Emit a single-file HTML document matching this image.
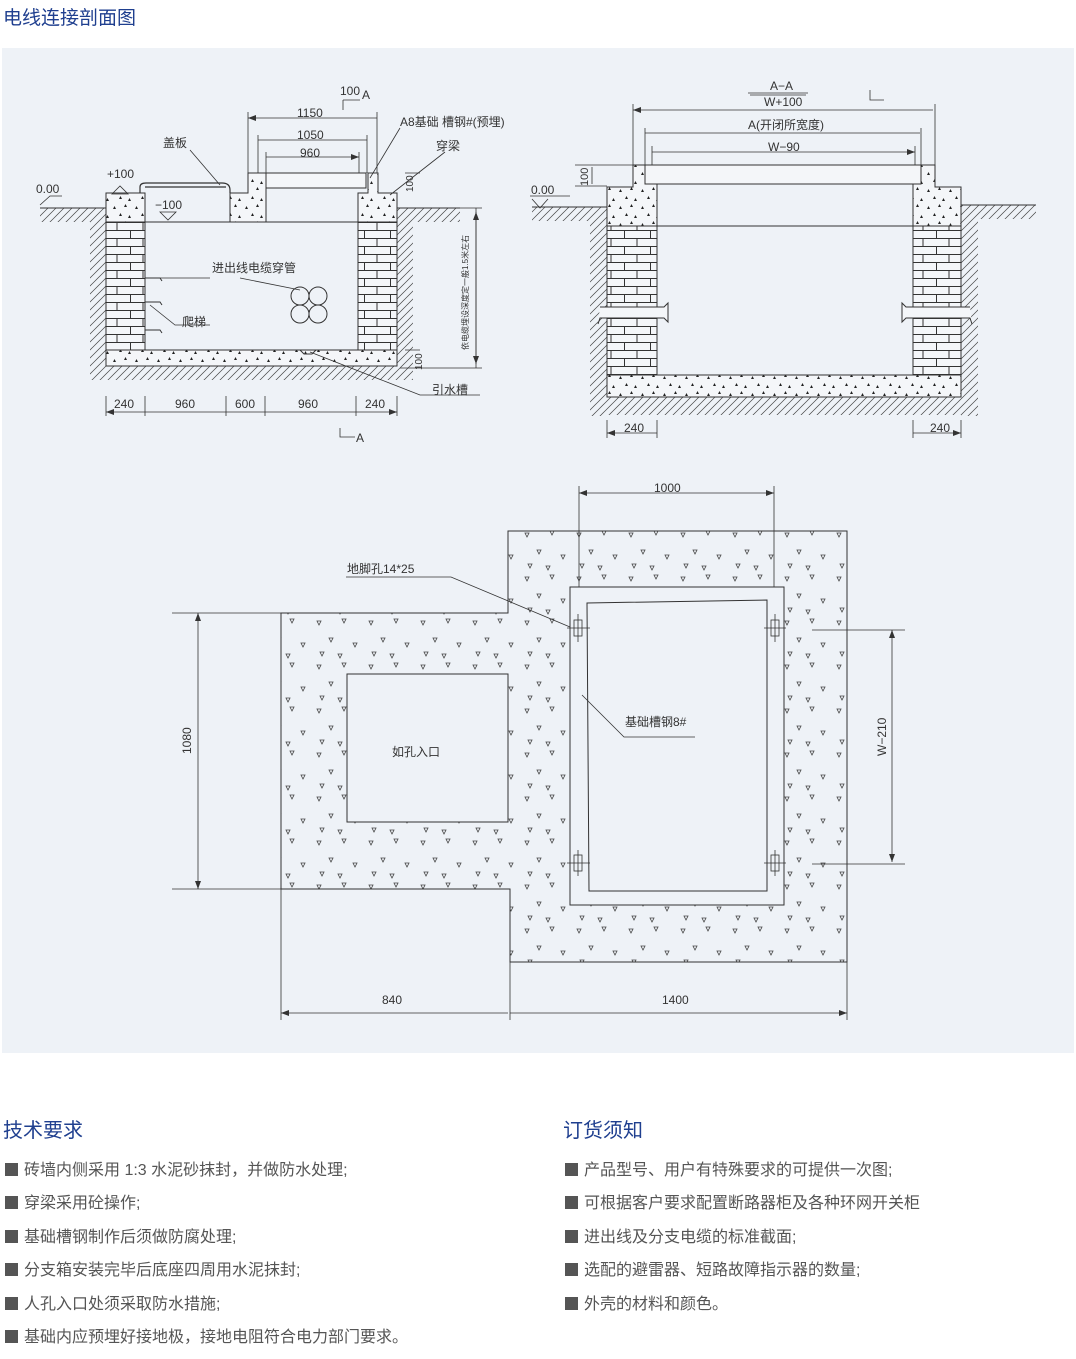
<!DOCTYPE html>
<html><head><meta charset="utf-8"><style>
html,body{margin:0;padding:0;background:#fff;}
body{width:1076px;height:1353px;position:relative;overflow:hidden;font-family:"Liberation Sans","Noto Sans CJK SC",sans-serif;}
.title{position:absolute;left:3px;top:3px;font-size:19px;color:#1f3f8f;}
.bg{position:absolute;left:2px;top:48px;width:1072px;height:1005px;background:#eef2f7;}
svg{position:absolute;left:0;top:0;}
h2{position:absolute;margin:0;font-weight:normal;font-size:20px;color:#1f3f8f;top:1114px;}
ul{position:absolute;margin:0;padding:0;list-style:none;top:1159px;}
li{font-size:16px;color:#555;height:33.4px;line-height:24px;white-space:nowrap;}
li:before{content:"";display:inline-block;width:13px;height:13px;background:#555;margin-right:6px;vertical-align:-1px;}
</style></head><body>
<div class="title">电线连接剖面图</div>
<div class="bg"></div>
<svg width="1076" height="1353" viewBox="0 0 1076 1353" font-family="Liberation Sans, Noto Sans CJK SC, sans-serif" fill="none" stroke="#333" stroke-width="1">
<defs>
<pattern id="hat" width="8" height="8" patternUnits="userSpaceOnUse"><path d="M0 8L8 0M-1 1L1 -1M7 9L9 7" stroke="#444" stroke-width="0.7"/></pattern>
<pattern id="brk" x="0" y="222" width="26" height="16" patternUnits="userSpaceOnUse"><rect width="26" height="16" fill="#f4f6f9" stroke="none"/><path d="M0 0.5H26M0 8.5H26M13 0V8M0.5 8V16" stroke="#333" stroke-width="1"/></pattern>
<pattern id="dot" width="22" height="17" patternUnits="userSpaceOnUse"><rect width="22" height="17" fill="#f4f6f9" stroke="none"/><path d="M3 5l3 0l-1.5-3zM14 3l3 0l-1.5-3zM9 12l3 0l-1.5-3zM18 14l3 0l-1.5-3z" fill="#222" stroke="none"/></pattern>
<pattern id="tri" width="52" height="44" patternUnits="userSpaceOnUse"><path d="M5 5l4 0l-2 4zM30 3l4 0l-2 4zM17 22l4 0l-2 4zM41 27l4 0l-2 4zM8 36l4 0l-2 4zM26 38l4 0l-2 4z" fill="none" stroke="#444" stroke-width="0.8"/></pattern>
<marker id="ar" markerWidth="8" markerHeight="6" refX="8" refY="3" orient="auto-start-reverse" markerUnits="userSpaceOnUse"><path d="M0 0L8 3L0 6z" fill="#333" stroke="none"/></marker>
</defs>

<!-- LEFT SECTION -->
<g>
<rect x="40" y="208" width="66" height="14" fill="url(#hat)" stroke="none"/>
<rect x="90" y="222" width="16" height="158" fill="url(#hat)" stroke="none"/>
<rect x="106" y="366" width="291" height="14" fill="url(#hat)" stroke="none"/>
<rect x="397" y="208" width="63" height="14" fill="url(#hat)" stroke="none"/>
<rect x="397" y="222" width="16" height="158" fill="url(#hat)" stroke="none"/>
<path d="M40 208H106M397 208H460"/>
<rect x="106" y="193" width="39" height="29" fill="url(#dot)"/>
<rect x="106" y="222" width="39" height="128" fill="url(#brk)"/>
<path d="M358 193H368V173H378V193H397V222H358Z" fill="url(#dot)"/>
<rect x="358" y="222" width="39" height="128" fill="url(#brk)"/>
<path d="M230 193H248V173H266V222H230Z" fill="url(#dot)"/>
<rect x="266" y="173" width="100" height="15" fill="#f4f6f9"/>
<path d="M106 350H397V366H106Z" fill="url(#dot)"/>
<path d="M145 222H358M145 193V350M358 222V350M300 350l4 4h8l4-4"/>
<path d="M140 193V187Q140 183 146 183H222Q230 183 230 190V193M145 187H226" stroke-width="1.2"/>
<path d="M145 278h15l2 3M145 302h15l2 3M145 330h15l2 3"/>
<circle cx="300" cy="296" r="9"/><circle cx="318" cy="296" r="9"/><circle cx="300" cy="314" r="9"/><circle cx="318" cy="314" r="9"/>
<g stroke-width="0.8">
<path d="M248 173V112M377 173V112M258 173V135M367 173V135M266 173V152M359 173V152"/>
<path d="M248 118H377M258 140H367M266 157H359" marker-start="url(#ar)" marker-end="url(#ar)"/>
<path d="M343 100V110M343 100H360"/>
<path d="M106 396V416M145 396V416M226 396V416M265 396V416M356 396V416M397 396V416"/>
<path d="M106 412H145M145 412H226M226 412H265M265 412H356M356 412H397" marker-start="url(#ar)" marker-end="url(#ar)"/>
<path d="M460 208H482M400 368H482M476 208V368" />
<path d="M476 212V364" marker-start="url(#ar)" marker-end="url(#ar)"/>
<path d="M405 350H420M405 173H420"/>
<path d="M340 428V437H355"/>
<path d="M190 150L220 185M400 128L370 178M445 152L390 195M160 278L210 278M240 278L300 290M150 305L175 325H210M310 352L420 395H480M112 194L120 186L128 194Z M160 212l8 8l8-8z M40 205L50 196H62"/>
</g>
<g fill="#333" stroke="none" font-size="12">
<text x="297" y="117">1150</text><text x="297" y="139">1050</text><text x="300" y="157">960</text>
<text x="340" y="95" font-size="12">100</text><text x="362" y="99">A</text>
<text x="400" y="126">A8基础 槽钢#(预埋)</text><text x="436" y="150">穿梁</text>
<text x="163" y="147">盖板</text><text x="107" y="178">+100</text><text x="36" y="193">0.00</text>
<text x="155" y="209">−100</text><text x="212" y="272">进出线电缆穿管</text><text x="182" y="326">爬梯</text>
<text x="432" y="394">引水槽</text>
<text x="114" y="408">240</text><text x="175" y="408">960</text><text x="235" y="408">600</text><text x="298" y="408">960</text><text x="365" y="408">240</text>
<text x="356" y="442">A</text>
<text transform="translate(413,192) rotate(-90)" font-size="10">100</text>
<text transform="translate(422,370) rotate(-90)" font-size="10">100</text>
<text transform="translate(468,350) rotate(-90)" font-size="8">依电缆埋设深度定一般1.5米左右</text>
</g>
</g>

<!-- RIGHT SECTION -->
<g>
<rect x="532" y="207" width="75" height="14" fill="url(#hat)" stroke="none"/>
<rect x="590" y="221" width="17" height="195" fill="url(#hat)" stroke="none"/>
<rect x="607" y="397" width="354" height="18" fill="url(#hat)" stroke="none"/>
<rect x="961" y="205" width="75" height="14" fill="url(#hat)" stroke="none"/>
<rect x="961" y="219" width="17" height="197" fill="url(#hat)" stroke="none"/>
<path d="M532 207H607M961 205H1036"/>
<path d="M607 187H633V165H645V184H657V226H607Z" fill="url(#dot)"/>
<rect x="607" y="226" width="50" height="149" fill="url(#brk)"/>
<path d="M913 184H921V165H935V187H961V226H913Z" fill="url(#dot)"/>
<rect x="913" y="226" width="48" height="149" fill="url(#brk)"/>
<rect x="645" y="165" width="276" height="19" fill="#f4f6f9"/>
<path d="M607 375H961V397H607Z" fill="url(#dot)"/>
<path d="M657 226H913"/>
<path d="M600 307H664l4-4V322l-4-4H600l-2 6" fill="#f4f6f9"/>
<path d="M970 307H906l-4-4V322l4-4H970l2 6" fill="#f4f6f9"/>
<g stroke-width="0.8">
<path d="M633 165V104M935 165V104M645 165V128M921 165V128M652 165V146M915 165V146"/>
<path d="M633 110H933M645 133H920M652 152H915" marker-start="url(#ar)" marker-end="url(#ar)"/>
<path d="M748 93H808M750 95H806M870 90V100H884"/>
<path d="M575 165H633M575 186H607M592 167V184" />
<path d="M532 199L540 208L548 199M530 196H570"/>
<path d="M607 420V438M657 420V438M913 420V438M961 420V438"/>
<path d="M607 433H657M913 433H961" marker-start="url(#ar)" marker-end="url(#ar)"/>
</g>
<g fill="#333" stroke="none" font-size="12">
<text x="770" y="90">A−A</text><text x="764" y="106">W+100</text><text x="748" y="129">A(开闭所宽度)</text><text x="768" y="151">W−90</text>
<text x="531" y="194">0.00</text><text x="624" y="432">240</text><text x="930" y="432">240</text>
<text transform="translate(588,186) rotate(-90)" font-size="11">100</text>
</g>
</g>

<!-- PLAN -->
<g>
<path d="M281 613H508V531H847V962H510V889H281Z" fill="#eef2f7"/>
<path d="M281 613H508V531H847V962H510V889H281Z M347 674V822H508V674Z M570 587V905H784V587Z" fill="url(#tri)" fill-rule="evenodd" stroke="none"/>
<path d="M281 613H508V531H847V962H510V889H281Z"/>
<rect x="347" y="674" width="161" height="148" fill="#eef2f7"/>
<rect x="570" y="587" width="214" height="318" fill="#eef2f7"/>
<path d="M587 603L767 600V891H589Z"/>
<g stroke-width="0.8">
<rect x="574" y="620" width="8" height="16"/><rect x="771" y="620" width="8" height="16"/>
<rect x="574" y="855" width="8" height="16"/><rect x="771" y="855" width="8" height="16"/>
<path d="M567 628H590M764 628H786M567 863H590M764 863H786M578 614V642M775 614V642M578 850V876M775 850V876"/>
<path d="M579 486V587M774 486V587"/><path d="M579 493H774" marker-start="url(#ar)" marker-end="url(#ar)"/>
<path d="M172 613H281M172 889H281"/><path d="M198 613V889" marker-start="url(#ar)" marker-end="url(#ar)"/>
<path d="M812 630H905M812 864H905"/><path d="M892 630V862" marker-start="url(#ar)" marker-end="url(#ar)"/>
<path d="M281 889V1020M510 962V1020M847 962V1020"/><path d="M281 1013H508M510 1013H847" marker-start="url(#ar)" marker-end="url(#ar)"/>
<path d="M346 577H451L570 627M582 695L624 737H695"/>
</g>
<g fill="#333" stroke="none" font-size="12">
<text x="654" y="492">1000</text><text x="347" y="573">地脚孔14*25</text><text x="392" y="756">如孔入口</text>
<text x="625" y="726">基础槽钢8#</text><text x="382" y="1004">840</text><text x="662" y="1004">1400</text>
<text transform="translate(191,754) rotate(-90)">1080</text>
<text transform="translate(886,756) rotate(-90)">W−210</text>
</g>
</g>
</svg>
<h2 style="left:3px">技术要求</h2>
<h2 style="left:563px">订货须知</h2>
<ul style="left:5px">
<li>砖墙内侧采用 1:3 水泥砂抹封，并做防水处理;</li>
<li>穿梁采用砼操作;</li>
<li>基础槽钢制作后须做防腐处理;</li>
<li>分支箱安装完毕后底座四周用水泥抹封;</li>
<li>人孔入口处须采取防水措施;</li>
<li>基础内应预埋好接地极，接地电阻符合电力部门要求。</li>
</ul>
<ul style="left:565px">
<li>产品型号、用户有特殊要求的可提供一次图;</li>
<li>可根据客户要求配置断路器柜及各种环网开关柜</li>
<li>进出线及分支电缆的标准截面;</li>
<li>选配的避雷器、短路故障指示器的数量;</li>
<li>外壳的材料和颜色。</li>
</ul>
</body></html>
